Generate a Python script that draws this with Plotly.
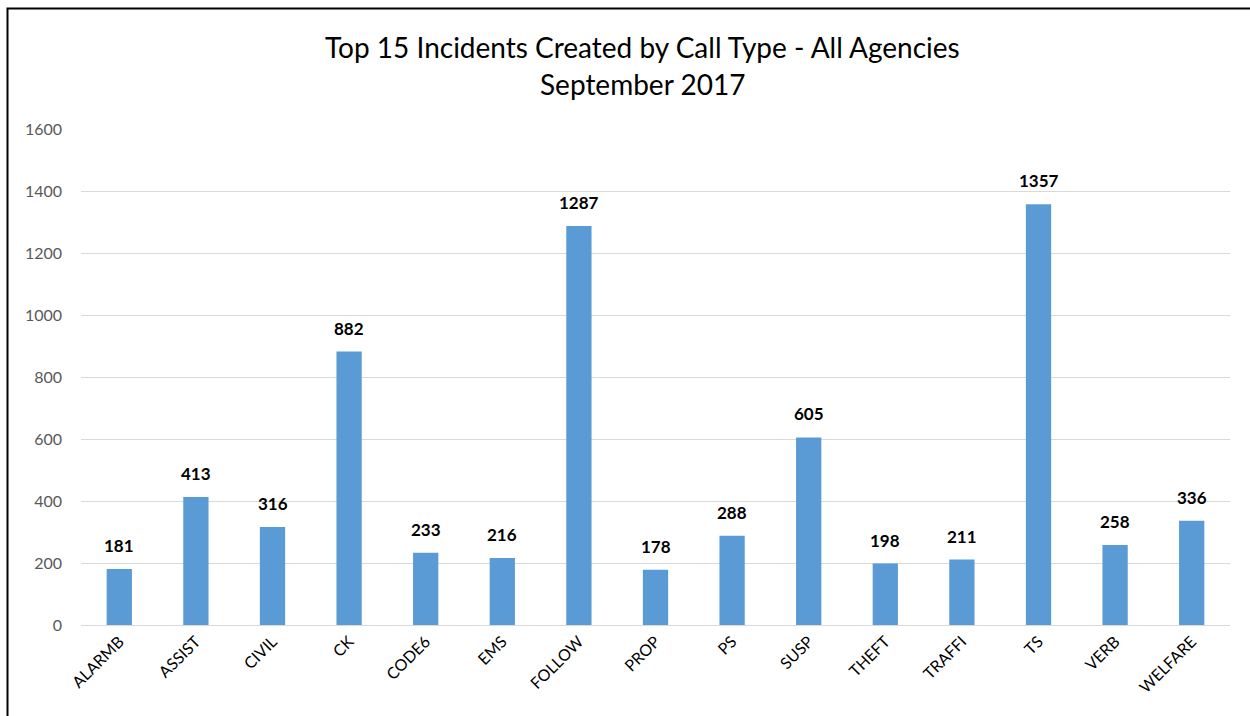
import plotly.graph_objects as go

call_types = ["ALARMB", "ASSIST", "CIVIL", "CK", "CODE6", "EMS", "FOLLOW", "PROP",
              "PS", "SUSP", "THEFT", "TRAFFI", "TS", "VERB", "WELFARE"]
incidents = [181, 413, 316, 882, 233, 216, 1287, 178, 288, 605, 198, 211, 1357, 258, 336]
y_ticks = [0, 200, 400, 600, 800, 1000, 1200, 1400, 1600]
title_lines = ["Top 15 Incidents Created by Call Type - All Agencies", "September 2017"]

W, H = 1250, 716
L, R, T, B = 81, 20, 129, 91
plot_w, plot_h = W - L - R, H - T - B

fig = go.Figure(
    go.Bar(
        x=call_types,
        y=incidents,
        marker=dict(color="#5B9BD5", line=dict(width=0)),
        hoverinfo="x+y",
    )
)

# value labels above each bar
for c, v in zip(call_types, incidents):
    fig.add_annotation(
        x=c, y=v, text=f"<b>{v}</b>", showarrow=False,
        yanchor="bottom", yshift=11,
        font=dict(family="Lato, Open Sans, sans-serif", size=17, color="#000000"),
    )

# two-line title
for i, line in enumerate(title_lines):
    fig.add_annotation(
        xref="paper", yref="paper",
        x=(642 - L) / plot_w, y=(H - B - (47 + 37 * i)) / plot_h,
        text=line, showarrow=False, xanchor="center", yanchor="middle",
        font=dict(family="Lato, Open Sans, sans-serif", size=28, color="#000000"),
    )

# chart frame
fig.add_shape(
    type="rect", xref="paper", yref="paper",
    x0=(7.5 - L) / plot_w, x1=(W + 50 - L) / plot_w,
    y0=(H - B - (H + 50)) / plot_h, y1=(H - B - 8.5) / plot_h,
    line=dict(color="#000000", width=2), layer="above",
)

fig.update_layout(
    width=W, height=H,
    margin=dict(l=L, r=R, t=T, b=B),
    paper_bgcolor="white", plot_bgcolor="white",
    bargap=0.67,
    showlegend=False,
    font=dict(family="Lato, Open Sans, sans-serif"),
)
fig.update_xaxes(
    tickangle=-45,
    tickfont=dict(size=16, color="#000000"),
    showline=True, linecolor="#d9d9d9", linewidth=1,
    showgrid=False, ticks="",
)
fig.update_yaxes(
    range=[0, 1600],
    tickvals=y_ticks,
    tickfont=dict(size=16, color="#595959"),
    showgrid=True, gridcolor="#d9d9d9", gridwidth=1,
    zeroline=False, showline=False, ticks="",
    ticklabelstandoff=18,
)

fig.write_html("out.html")
